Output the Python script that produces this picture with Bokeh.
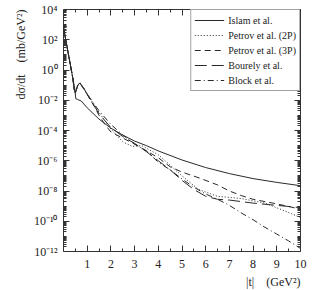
import numpy as np
from bokeh.plotting import figure
from bokeh.models import FixedTicker, LinearAxis, LogAxis, Title, Legend, LegendItem
from bokeh.embed import file_html
from bokeh.resources import INLINE

# |t| in GeV^2 and log10(dsigma/dt) in mb/GeV^2
islam_t = [0.0, 0.1, 0.2, 0.3, 0.4, 0.47, 0.52, 0.6, 0.75, 1.0, 1.5, 2.0, 2.5, 3.0, 3.5, 4.0, 5.0, 6.0, 7.0, 8.0, 9.0, 10.0]
islam_lg = [2.8, 1.95, 1.1, 0.25, -0.6, -1.2, -1.9, -1.95, -2.05, -2.5, -3.25, -3.85, -4.3, -4.7, -5.0, -5.35, -5.95, -6.45, -6.85, -7.18, -7.43, -7.65]

petrov2_t = [0.0, 0.1, 0.2, 0.3, 0.4, 0.46, 0.52, 0.6, 0.7, 0.9, 1.0, 1.5, 2.0, 2.5, 2.9, 3.3, 4.0, 5.0, 5.7, 6.5, 7.5, 8.5, 9.3, 10.0]
petrov2_lg = [2.8, 1.95, 1.1, 0.25, -0.6, -1.3, -1.55, -1.05, -0.9, -1.3, -1.6, -2.8, -3.9, -4.75, -5.05, -5.0, -5.6, -7.0, -7.9, -8.35, -8.5, -8.8, -9.3, -9.75]

petrov3_t = [0.0, 0.1, 0.2, 0.3, 0.4, 0.45, 0.5, 0.6, 0.7, 0.9, 1.1, 1.3, 1.5, 1.75, 2.0, 2.5, 3.0, 3.5, 4.0, 4.5, 5.0, 5.75, 6.5, 7.0, 7.5, 8.0, 9.0, 10.0]
petrov3_lg = [2.8, 1.95, 1.1, 0.25, -0.6, -1.3, -1.5, -1.0, -0.85, -1.3, -1.9, -2.4, -3.0, -3.6, -4.1, -4.5, -4.9, -5.35, -5.8, -6.4, -6.75, -7.15, -7.6, -8.0, -8.3, -8.55, -8.85, -9.2]

bourely_t = [0.0, 0.1, 0.2, 0.3, 0.4, 0.45, 0.5, 0.6, 0.7, 1.0, 1.5, 2.0, 2.5, 3.0, 3.5, 4.0, 4.5, 5.0, 5.5, 6.0, 6.5, 7.0, 8.0, 9.0, 10.0]
bourely_lg = [2.8, 1.95, 1.1, 0.25, -0.6, -1.3, -1.5, -1.0, -0.85, -1.6, -2.9, -3.8, -4.4, -4.85, -5.4, -6.0, -6.6, -7.3, -7.9, -8.35, -8.55, -8.6, -8.8, -8.95, -9.1]

block_t = [0.0, 0.1, 0.2, 0.3, 0.4, 0.45, 0.5, 0.6, 0.7, 1.0, 1.5, 2.0, 2.5, 3.0, 3.5, 4.0, 4.5, 5.0, 5.5, 6.0, 6.5, 7.0, 7.5, 8.0, 8.5, 9.0, 9.5, 10.0]
block_lg = [2.8, 1.95, 1.1, 0.25, -0.6, -1.3, -1.5, -1.0, -0.9, -1.6, -2.7, -3.6, -4.3, -4.9, -5.35, -6.1, -6.6, -7.2, -7.75, -8.2, -8.55, -8.95, -9.45, -9.9, -10.4, -10.85, -11.3, -11.8]

x_ticks = [1, 2, 3, 4, 5, 6, 7, 8, 9, 10]
y_label_exps = [4, 2, 0, -2, -4, -6, -8, -10, -12]

SUP = str.maketrans("-0123456789", "⁻⁰¹²³⁴⁵⁶⁷⁸⁹")
FONT = "Liberation Serif"
LC = "#2a2a2a"
GAP = "\u00a0\u00a0\u00a0\u00a0"

p = figure(width=313, height=290, y_axis_type="log", x_range=(0, 10), y_range=(1e-12, 1e4),
           output_backend="svg", toolbar_location=None,
           min_border_left=63, min_border_right=13, min_border_top=9, min_border_bottom=36)
p.grid.visible = False
p.outline_line_color = "#333333"
p.background_fill_color = "white"

r1 = p.line(islam_t, [10.0 ** v for v in islam_lg], line_color=LC, line_width=1.0)
r2 = p.line(petrov2_t, [10.0 ** v for v in petrov2_lg], line_color=LC, line_width=1.0, line_dash="1 2")
r3 = p.line(petrov3_t, [10.0 ** v for v in petrov3_lg], line_color=LC, line_width=1.0, line_dash="6 4")
r4 = p.line(bourely_t, [10.0 ** v for v in bourely_lg], line_color=LC, line_width=1.0, line_dash="12 5")
r5 = p.line(block_t, [10.0 ** v for v in block_lg], line_color=LC, line_width=1.0, line_dash="6 3 1 3")

xmin = [m + 0.5 for m in range(0, 10)]
yticks = [10.0 ** e for e in y_label_exps]
yminor = [m * 10.0 ** e for e in range(-12, 4) for m in range(2, 11) if not (m == 10 and (e + 1) in y_label_exps)]
overrides = {10.0 ** e: "10" + str(e).translate(SUP) for e in y_label_exps}

def style(ax):
    ax.axis_line_color = None
    ax.major_tick_in = 6
    ax.major_tick_out = 0
    ax.minor_tick_in = 3
    ax.minor_tick_out = 0
    ax.major_tick_line_color = "#333333"
    ax.minor_tick_line_color = "#333333"
    ax.major_label_text_font = FONT
    ax.major_label_text_font_size = "12px"
    ax.major_label_text_color = "#222222"

p.xaxis.ticker = FixedTicker(ticks=x_ticks, minor_ticks=xmin)
p.yaxis.ticker = FixedTicker(ticks=yticks, minor_ticks=yminor)
p.yaxis.major_label_overrides = overrides
style(p.xaxis[0])
style(p.yaxis[0])
p.xaxis.major_label_standoff = 8
p.yaxis.major_label_standoff = 6

top = LinearAxis(ticker=FixedTicker(ticks=x_ticks, minor_ticks=xmin))
style(top)
top.major_label_text_alpha = 0
top.major_label_text_font_size = "1px"
top.major_label_standoff = 0
p.add_layout(top, "above")
right = LogAxis(ticker=FixedTicker(ticks=yticks, minor_ticks=yminor))
style(right)
right.major_label_text_alpha = 0
right.major_label_text_font_size = "1px"
right.major_label_standoff = 0
p.add_layout(right, "right")

p.add_layout(Title(text="dσ/dt" + GAP + "(mb/GeV²)", align="right", text_font=FONT, text_font_size="12px",
                   text_font_style="normal", text_color="#222222", standoff=6), "left")
p.add_layout(Title(text="|t|" + GAP + "(GeV²)", align="right", text_font=FONT, text_font_size="12px",
                   text_font_style="normal", text_color="#222222", standoff=4), "below")

legend = Legend(items=[
    LegendItem(label="Islam et al.", renderers=[r1]),
    LegendItem(label="Petrov et al. (2P)", renderers=[r2]),
    LegendItem(label="Petrov et al. (3P)", renderers=[r3]),
    LegendItem(label="Bourely et al.", renderers=[r4]),
    LegendItem(label="Block et al.", renderers=[r5]),
], location="top_right")
legend.margin = 0
legend.padding = 3
legend.spacing = 1
legend.glyph_width = 30
legend.glyph_height = 14
legend.label_standoff = 4
legend.label_height = 14
legend.label_text_font = FONT
legend.label_text_font_size = "10px"
legend.label_text_color = "#222222"
legend.border_line_color = "#444444"
legend.border_line_width = 1
legend.background_fill_alpha = 1
p.add_layout(legend)

open("out.html", "w").write(file_html(p, INLINE))
